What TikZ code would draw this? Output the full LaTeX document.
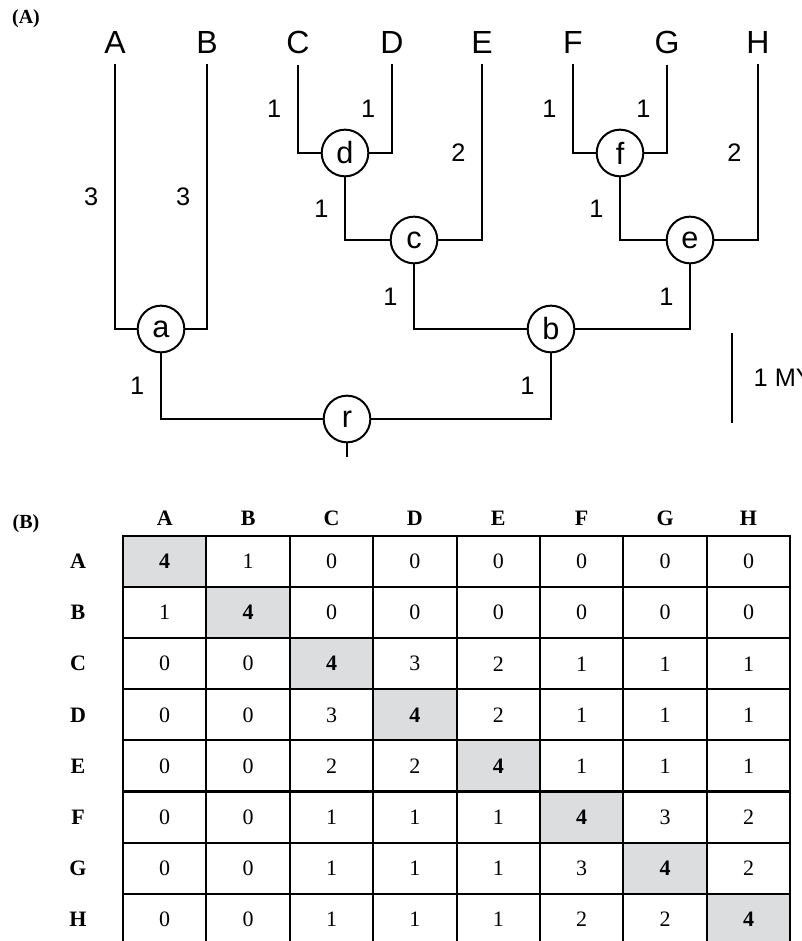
\documentclass[tikz,border=0pt]{standalone}
\usepackage{fontspec}
\setmainfont{Liberation Serif}
\setsansfont{Liberation Sans}
\definecolor{cellgrey}{HTML}{DCDDDE}
\usepackage{tikz}
\usetikzlibrary{calc, positioning}

\tikzset{
  taxon/.style={font=\sffamily\fontsize{24}{24}\selectfont, inner xsep=0pt, inner ysep=8.4pt},
  anc/.style={draw, circle, line width=1.5pt, fill=white, minimum size=35pt, inner sep=0pt,
    font=\sffamily\fontsize{23}{23}\selectfont},
  branch/.style={line width=2pt},
  edgelbl/.style={font=\sffamily\fontsize{19}{19}\selectfont, inner sep=0pt, left=11.5pt, pos=.25},
  panel/.style={font=\bfseries\fontsize{15}{15}\selectfont, inner sep=0pt},
  hdr/.style={font=\bfseries\fontsize{16.5}{16.5}\selectfont, inner sep=0pt},
  cellval/.style={font=\fontsize{16.5}{16.5}\selectfont, inner sep=0pt},
  cell/.style={draw, line width=1.6pt}
}

\begin{document}
\begin{tikzpicture}[x=0.75pt, y=-0.75pt]
  \useasboundingbox (0,0) rectangle (801,941);

  \node[panel] (pA) at (26,19) {(A)};
  \node[panel] (pB) at (26,524) {(B)};

  \foreach \n/\x in {A/115, B/207, C/298, D/392, E/482, F/573, G/667, H/758}
    \node[taxon] (\n) at (\x,42) {\n};

  \node[anc] (d) at (345,153) {d};
  \node[anc] (f) at (620,153) {f};
  \node[anc] (c) at (414,240) {c};
  \node[anc] (e) at (690,240) {e};
  \node[anc] (a) at (161,329) {a};
  \node[anc] (b) at (551,329) {b};
  \node[anc] (r) at (347,419) {r};
  \coordinate (root) at (347,457);

  \draw[branch] (A) |- node[edgelbl] {3} (a);
  \draw[branch] (B) |- node[edgelbl] {3} (a);
  \draw[branch] (C) |- node[edgelbl] {1} (d);
  \draw[branch] (D) |- node[edgelbl] {1} (d);
  \draw[branch] (d) |- node[edgelbl] {1} (c);
  \draw[branch] (E) |- node[edgelbl] {2} (c);
  \draw[branch] (F) |- node[edgelbl] {1} (f);
  \draw[branch] (G) |- node[edgelbl] {1} (f);
  \draw[branch] (f) |- node[edgelbl] {1} (e);
  \draw[branch] (H) |- node[edgelbl] {2} (e);
  \draw[branch] (c) |- node[edgelbl] {1} (b);
  \draw[branch] (e) |- node[edgelbl] {1} (b);
  \draw[branch] (a) |- node[edgelbl] {1} (r);
  \draw[branch] (b) |- node[edgelbl] {1} (r);
  \draw[branch] (r) -- (root);

  \coordinate (bartop) at (732,333);
  \coordinate (barbot) at (732,423);
  \draw[line width=1.5pt] (bartop) -- node[right=15.5pt, inner sep=0pt,
    font=\sffamily\fontsize{19}{19}\selectfont] (mya) {1 MY} (barbot);

  \foreach \cl [count=\j] in {A,...,H} {
    \pgfmathsetmacro{\xm}{123+83.4*(\j-0.5)}
    \node[hdr] (col-\cl) at (\xm,518) {\cl};
  }

  \foreach \rl/\vals [count=\i] in {
    A/{4,1,0,0,0,0,0,0},
    B/{1,4,0,0,0,0,0,0},
    C/{0,0,4,3,2,1,1,1},
    D/{0,0,3,4,2,1,1,1},
    E/{0,0,2,2,4,1,1,1},
    F/{0,0,1,1,1,4,3,2},
    G/{0,0,1,1,1,3,4,2},
    H/{0,0,1,1,1,2,2,4}} {
    \pgfmathsetmacro{\ytop}{536+51.1*(\i-1)}
    \pgfmathsetmacro{\ymid}{\ytop+25.55}
    \node[hdr] (row-\rl) at (78,\ymid) {\rl};
    \foreach \v [count=\j] in \vals {
      \pgfmathsetmacro{\xl}{123+83.4*(\j-1)}
      \pgfmathsetmacro{\xm}{\xl+41.7}
      \ifnum\i=\j
        \draw[cell, fill=cellgrey] (\xl,\ytop) rectangle ++(83.4,51.1);
        \node[hdr] (cell-\i-\j) at (\xm,\ymid) {\v};
      \else
        \draw[cell] (\xl,\ytop) rectangle ++(83.4,51.1);
        \node[cellval] (cell-\i-\j) at (\xm,\ymid) {\v};
      \fi
    }
  }
\end{tikzpicture}
\end{document}
